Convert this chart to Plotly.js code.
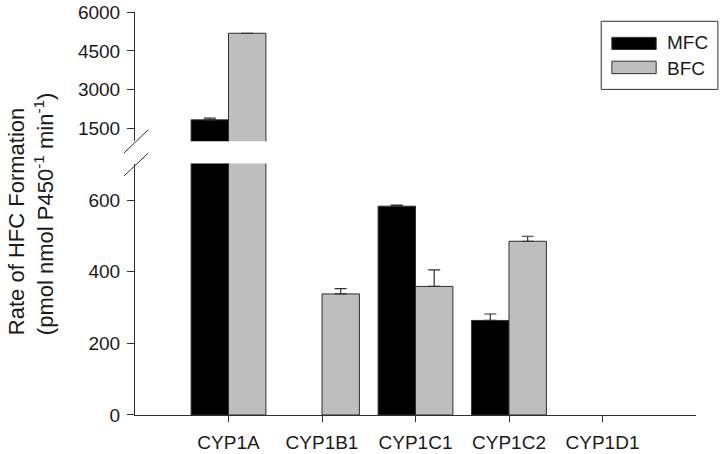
<html>
<head>
    <meta charset="utf-8">
    <script src="https://cdn.plot.ly/plotly-3.0.1.min.js"></script>
    <style>
        body { margin: 0; background: #fff; }
        #chart { width: 722px; height: 454px; }
    </style>
</head>
<body>
<div id="chart"></div>
<script>
    // data (null = no bar drawn)
    var enzymes = ['CYP1A', 'CYP1B1', 'CYP1C1', 'CYP1C2', 'CYP1D1'];
    var mfcRate = [1840, null, 583, 264, null];
    var mfcErr = [70, null, 3, 18, null];
    var bfcRate = [5180, 338, 359, 485, null];
    var bfcErr = [null, 15, 46, 14, null];
    var lowTicks = [0, 200, 400, 600];
    var highTicks = [1500, 3000, 4500, 6000];

    var mfcColor = '#000000';
    var bfcColor = '#bebebe';
    var edge = '#303030';
    var font = 'Arial, "Liberation Sans", sans-serif';

    function barTrace(name, vals, errs, color, yaxis) {
        return {
            type: 'bar', name: name, x: enzymes, y: vals, yaxis: yaxis,
            marker: {color: color, line: {color: edge, width: 1}},
            error_y: {type: 'data', symmetric: false, array: errs, arrayminus: errs.map(function () { return 0; }),
                color: edge, thickness: 1.2, width: 6},
            showlegend: false, hoverinfo: 'x+y'
        };
    }

    var data = [
        barTrace('MFC', mfcRate, mfcErr, mfcColor, 'y'),
        barTrace('BFC', bfcRate, bfcErr, bfcColor, 'y'),
        barTrace('MFC', mfcRate, mfcErr, mfcColor, 'y2'),
        barTrace('BFC', bfcRate, bfcErr, bfcColor, 'y2')
    ];

    var axisCommon = {
        showgrid: false, zeroline: false, showline: true, linecolor: edge, linewidth: 1,
        ticks: 'outside', ticklen: 7, tickcolor: edge, ticklabelstandoff: 3,
        tickfont: {family: font, size: 19, color: '#1a1a1a'}
    };

    var layout = {
        width: 722, height: 454,
        margin: {l: 135, r: 26, t: 12, b: 39},
        paper_bgcolor: '#fff', plot_bgcolor: '#fff',
        barmode: 'group', bargap: 0.2, bargroupgap: 0,
        showlegend: false,
        xaxis: {
            range: [-1, 5], showgrid: false, zeroline: false, showline: true, linecolor: edge,
            ticks: 'outside', ticklen: 6, tickcolor: edge, anchor: 'y', ticklabelstandoff: 4,
            tickfont: {family: font, size: 19, color: '#1a1a1a'}
        },
        yaxis: Object.assign({}, axisCommon, {domain: [0, 0.624], range: [0, 702], tickvals: lowTicks}),
        yaxis2: Object.assign({}, axisCommon, {domain: [0.679, 1], range: [1010, 6000], tickvals: highTicks, anchor: 'x'}),
        annotations: [
            {
                xref: 'paper', yref: 'paper', x: -0.186, y: 0.5, xanchor: 'center', yanchor: 'middle',
                textangle: -90, align: 'left', showarrow: false,
                text: 'Rate of HFC Formation<br>(pmol nmol P450<sup>-1</sup> min<sup>-1</sup>)',
                font: {family: font, size: 22, color: '#1a1a1a'}
            },
            {xref: 'paper', yref: 'paper', x: 0.944, y: 0.925, xanchor: 'left', yanchor: 'middle', showarrow: false,
                text: 'MFC', font: {family: font, size: 19, color: '#1a1a1a'}},
            {xref: 'paper', yref: 'paper', x: 0.944, y: 0.861, xanchor: 'left', yanchor: 'middle', showarrow: false,
                text: 'BFC', font: {family: font, size: 19, color: '#1a1a1a'}}
        ],
        shapes: [
            // axis break marks
            {type: 'line', xref: 'paper', yref: 'paper', x0: -0.0196, y0: 0.650, x1: 0.0237, y1: 0.708, line: {color: edge, width: 1}},
            {type: 'line', xref: 'paper', yref: 'paper', x0: -0.0196, y0: 0.593, x1: 0.0237, y1: 0.650, line: {color: edge, width: 1}},
            // legend box and swatches
            {type: 'rect', xref: 'paper', yref: 'paper', x0: 0.831, y0: 0.808, x1: 1.039, y1: 0.977, line: {color: edge, width: 1}},
            {type: 'rect', xref: 'paper', yref: 'paper', x0: 0.850, y0: 0.907, x1: 0.929, y1: 0.937,
                fillcolor: mfcColor, line: {color: edge, width: 1}},
            {type: 'rect', xref: 'paper', yref: 'paper', x0: 0.850, y0: 0.847, x1: 0.929, y1: 0.878,
                fillcolor: bfcColor, line: {color: edge, width: 1}}
        ]
    };

    Plotly.newPlot('chart', data, layout, {displayModeBar: false, staticPlot: true});
</script>
</body>
</html>
